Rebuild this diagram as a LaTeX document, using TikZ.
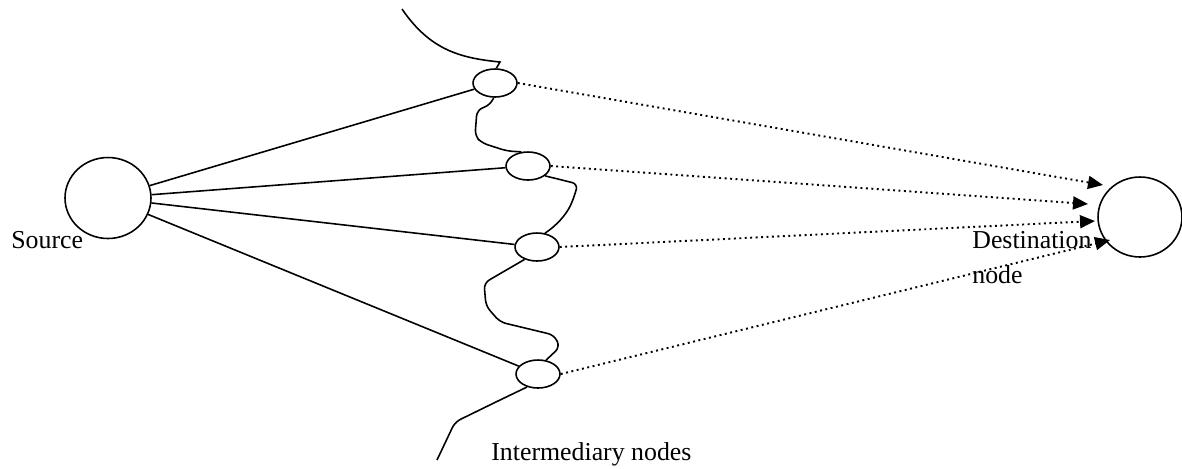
\documentclass[tikz,border=0pt]{standalone}
\usepackage{fontspec}
\setmainfont{Liberation Serif}
\usepackage{tikz}
\usetikzlibrary{shapes.geometric, arrows.meta, positioning, calc}

\tikzset{
  noderound/.style={draw,ellipse,line width=0.9pt,inner sep=0pt},
  relay/.style={noderound,minimum width=0.88cm,minimum height=0.56cm},
  hop/.style={line width=0.9pt},
  fwd/.style={dotted,line width=1.1pt,-{Triangle[length=0.3cm,width=0.26cm]}},
  lbl/.style={anchor=base west,inner sep=0pt,font=\fontsize{14.7}{19.8}\selectfont}
}

\begin{document}
\begin{tikzpicture}[x=0.02cm,y=-0.02cm]
  \useasboundingbox (0,0) rectangle (1182,468);

  % ---------- nodes ----------
  \node[noderound,minimum width=1.72cm,minimum height=1.62cm] (src) at (108,198) {};
  \node[noderound,minimum width=1.68cm,minimum height=1.6cm] (dst) at (1140,217) {};
  \foreach \i/\x/\y in {1/495/83, 2/528/166, 3/537/247, 4/538/374}{
    \node[relay] (m\i) at (\x,\y) {};
  }

  % ---------- labels ----------
  \node[lbl] (srclbl) at (11,248) {Source};
  \node[lbl,align=left] (dstlbl) at (972,283) {Destination\\node};
  \node[lbl] (midlbl) at (491,460) {Intermediary nodes};

  % ---------- source -> intermediary ----------
  \foreach \i in {1,...,4}{
    \draw[hop] (src) -- (m\i);
  }

  % ---------- intermediary -> destination ----------
  \coordinate (t1) at (1103,185);
  \coordinate (t2) at (1088,204);
  \coordinate (t3) at (1095,221);
  \coordinate (t4) at (1110,240);
  \foreach \i in {1,...,4}{
    \draw[fwd] (m\i.east) -- (t\i);
  }

  % ---------- boundary curve ----------
  \draw[hop] (402,9) .. controls (430,50) and (460,58) .. (500,62) -- (m1.85);
  \draw[hop,rounded corners=0.12cm] (m1.265) -- (490,105) -- (477,110)
       -- (475,136) -- (482,143) -- (507,151) -- (m2.115);
  \draw[hop,rounded corners=0.12cm] (m2.-30) -- (578,184) -- (573,200)
       .. controls (566,215) and (556,226) .. (m3.60);
  \draw[hop,rounded corners=0.12cm] (m3.225) -- (484,283) -- (486,306)
       -- (500,322) -- (554,335) -- (560,347) -- (m4.60);
  \draw[hop,rounded corners=0.12cm] (m4.230) -- (500,400) -- (455,422)
       -- (437,460);
\end{tikzpicture}
\end{document}
